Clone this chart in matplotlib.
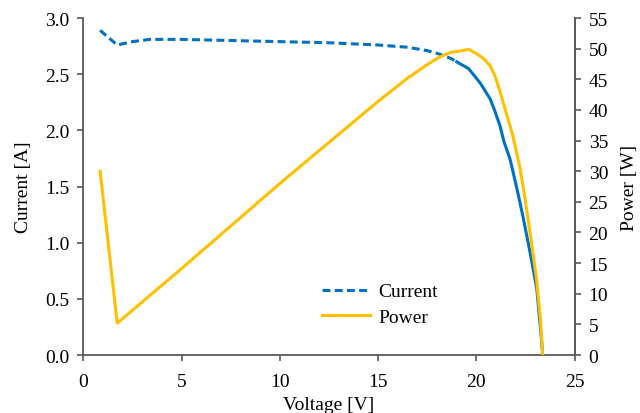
import numpy as np
import matplotlib
matplotlib.use("Agg")
import matplotlib.pyplot as plt

plt.rcParams['font.family'] = ['Liberation Serif', 'DejaVu Serif']

# Current, dashed part then solid part near the knee
v_cur_dash = [0.86, 1.73, 2.5, 3.4, 5.0, 7.5, 10.0, 12.5, 15.0, 16.5, 17.5, 18.1, 18.7, 19.0]
i_cur_dash = [2.89, 2.76, 2.79, 2.81, 2.81, 2.80, 2.79, 2.78, 2.76, 2.74, 2.71, 2.68, 2.64, 2.61]
v_cur_solid = [19.0, 19.3, 19.6, 20.2, 20.7, 20.9, 21.2, 21.4, 21.7, 21.85, 22.1, 22.36, 22.7, 23.07, 23.32, 23.37]
i_cur_solid = [2.61, 2.58, 2.55, 2.42, 2.28, 2.19, 2.04, 1.90, 1.75, 1.64, 1.45, 1.24, 0.94, 0.59, 0.12, 0.0]

# Power
v_pow = [0.86, 1.73, 5.0, 10.0, 15.0, 16.5, 17.5, 18.1, 18.7, 19.3, 19.6,
         20.0, 20.4, 20.7, 20.95, 21.2, 21.5, 21.85, 22.2, 22.45, 22.75, 23.05, 23.25, 23.37]
p_pow = [30.0, 5.2, 14.1, 28.0, 41.4, 45.2, 47.4, 48.6, 49.4, 49.7, 49.9,
         49.2, 48.3, 47.2, 45.5, 43.0, 39.7, 35.8, 30.8, 26.0, 19.5, 12.6, 6.0, 0.0]

blue = '#0070C0'
gold = '#FFC000'
spine_col = '#595959'

fig = plt.figure(figsize=(6.4, 4.14), dpi=100)
ax = fig.add_axes([0.130, 0.140, 0.768, 0.814])
ax2 = ax.twinx()

l1, = ax.plot(v_cur_dash, i_cur_dash, color=blue, lw=2.2, ls=(0, (2.6, 1.4)), label='Current')
ax.plot(v_cur_solid, i_cur_solid, color=blue, lw=2.2)
l2, = ax2.plot(v_pow, p_pow, color=gold, lw=2.2, label='Power')

ax.set_xlim(0, 25)
ax.set_ylim(0, 3.0)
ax2.set_ylim(0, 55)
ax.set_xticks(np.arange(0, 26, 5))
ax.set_yticks(np.arange(0, 3.01, 0.5))
ax.set_yticklabels([f'{t:.1f}' for t in np.arange(0, 3.01, 0.5)])
ax2.set_yticks(np.arange(0, 56, 5))

for a in (ax, ax2):
    a.spines['top'].set_visible(False)
    for s in a.spines.values():
        s.set_color(spine_col)
        s.set_linewidth(1.3)
    a.tick_params(direction='out', length=4, width=1.2, color=spine_col,
                  labelsize=14, pad=6)
ax2.spines['left'].set_visible(False)
ax2.spines['bottom'].set_visible(False)
ax.tick_params(axis='x', pad=9)

ax.set_xlabel('Voltage [V]', fontsize=14, labelpad=4)
ax.set_ylabel('Current [A]', fontsize=14, labelpad=9)
ax2.set_ylabel('Power [W]', fontsize=14, labelpad=9)

ax.legend([l1, l2], ['Current', 'Power'], loc='lower left', bbox_to_anchor=(0.45, 0.035),
          frameon=False, fontsize=14, handlelength=2.5, handletextpad=0.4,
          labelspacing=0.4)

fig.savefig('out.png', dpi=100)
